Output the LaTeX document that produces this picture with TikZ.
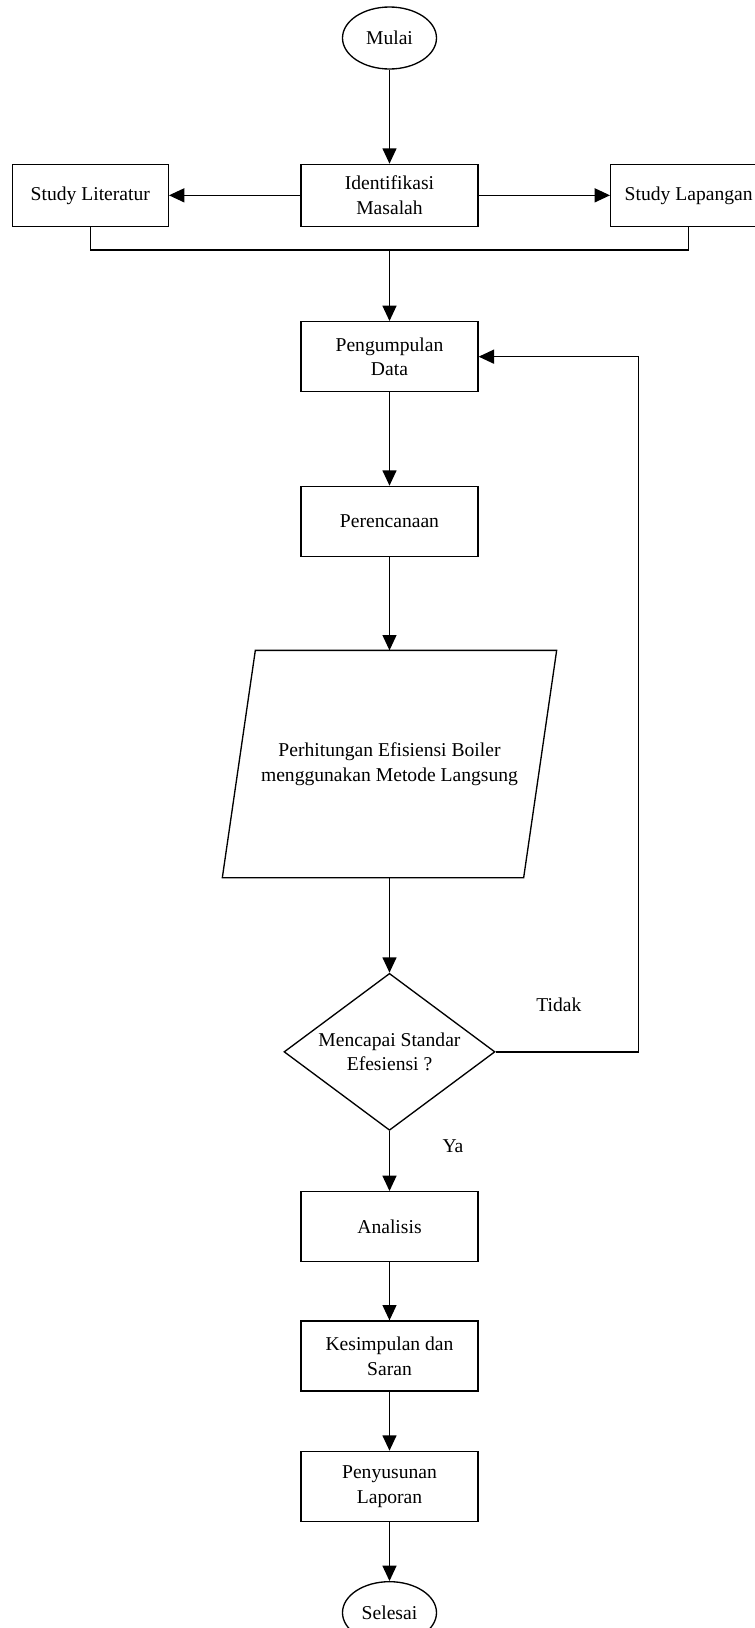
\documentclass[tikz,border=0pt]{standalone}
\usepackage{fontspec}
\setmainfont{Liberation Serif}
\usetikzlibrary{positioning, shapes.geometric, arrows.meta, calc}
\tikzstyle{proses} = [rectangle, draw, align=center,
                      minimum height=52.5pt, minimum width=132.75pt]
\tikzstyle{arr}    = [-{Triangle[length=11.5pt, width=10.5pt]}]

\begin{document}
\begin{tikzpicture}[font=\fontsize{14.7}{18.5}\selectfont, line width=1pt,
  terminal/.style={ellipse, draw, inner sep=0pt, minimum width=70.5pt, minimum height=46.5pt},
  sisi/.style={proses, minimum width=117pt, minimum height=46.5pt},
  io/.style={rectangle, align=center, minimum width=225pt, minimum height=169.5pt},
  keputusan/.style={diamond, draw, align=center, inner sep=0pt, aspect=1.344,
                    minimum width=158.25pt, minimum height=117.75pt},
  lbl/.style={inner sep=0pt}]
\useasboundingbox (-292.125pt,28.5pt) rectangle (274.125pt,-1192.5pt);
\node[terminal] (mulai) {Mulai};
\node[proses, minimum height=46.5pt, below=70.5pt of mulai] (ident) {Identifikasi\\Masalah};
\node[sisi, left=98.5pt of ident] (lit) {Study Literatur};
\node[sisi, right=98.5pt of ident] (lap) {Study Lapangan};
\coordinate[below=17.25pt of ident] (gabung);
\node[proses, below=70.5pt of ident] (kumpul) {Pengumpulan\\Data};
\node[proses, below=70pt of kumpul] (rencana) {Perencanaan};
\node[io, below=70pt of rencana] (hitung) {Perhitungan Efisiensi Boiler\\menggunakan Metode Langsung};
\draw ($(hitung.north west)+(12.375pt,0)$) -- ($(hitung.north east)+(12.375pt,0)$)
   -- ($(hitung.south east)-(12.375pt,0)$) -- ($(hitung.south west)-(12.375pt,0)$) -- cycle;
\node[keputusan, below=71.25pt of hitung] (cek) {Mencapai Standar\\Efesiensi ?};
\node[proses, below=45pt of cek] (analisis) {Analisis};
\node[proses, below=43.5pt of analisis] (simpul) {Kesimpulan dan\\Saran};
\node[proses, below=44.25pt of simpul] (susun) {Penyusunan\\Laporan};
\node[terminal, below=44.25pt of susun] (selesai) {Selesai};
\coordinate[right=107.25pt of cek.east] (balik);
\node[lbl] (tidak) at ($(cek)+(127.1pt,35.25pt)$) {Tidak};
\node[lbl] (ya) at ($(cek)+(47.6pt,-70.5pt)$) {Ya};
\draw[arr] (mulai)--(ident); \draw[arr] (ident)--(lit); \draw[arr] (ident)--(lap);
\draw (lit.south) |- (gabung) -| (lap.south); \draw[arr] (gabung)--(kumpul);
\draw[arr] (kumpul)--(rencana); \draw[arr] (rencana)--(hitung); \draw[arr] (hitung)--(cek);
\draw[arr] (cek.east)--(balik) |- (kumpul.east);
\draw[arr] (cek)--(analisis); \draw[arr] (analisis)--(simpul); \draw[arr] (simpul)--(susun);
\draw[arr] (susun)--(selesai);
\end{tikzpicture}
\end{document}
